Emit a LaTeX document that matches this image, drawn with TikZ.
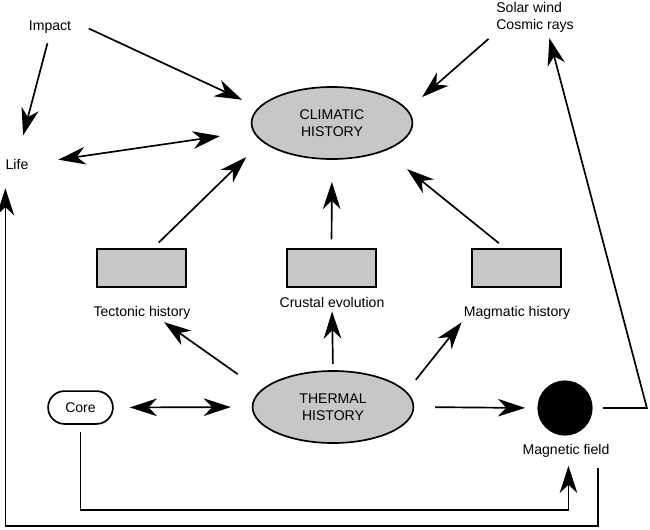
\documentclass[tikz,border=0pt]{standalone}
\usepackage{fontspec}
\setmainfont{Liberation Sans}
\usetikzlibrary{arrows.meta,shapes.geometric}
\definecolor{shade}{gray}{0.78}

\begin{document}
\begin{tikzpicture}[x=0.025cm, y=-0.025cm,
  hist/.style={ellipse, draw, line width=1.2pt, fill=shade, minimum width=4.02cm, minimum height=1.8cm, align=center, inner sep=0pt},
  slab/.style={rectangle, draw, line width=1.2pt, fill=shade, minimum width=2.22cm, minimum height=0.95cm},
  lbl/.style={inner sep=0pt, align=left},
  arr/.style={line width=1.2pt, -{Stealth[length=6.8mm,width=4.4mm,inset=2.1mm]}},
  dbl/.style={line width=1.2pt, {Stealth[length=6.8mm,width=4.4mm,inset=2.1mm]}-{Stealth[length=6.8mm,width=4.4mm,inset=2.1mm]}}]
  \useasboundingbox (0,0) rectangle (650,529);
  % the two histories
  \node[hist] (climatic) at (332,123) {CLIMATIC\\HISTORY};
  \node[hist] (thermal) at (333,407) {THERMAL\\HISTORY};
  % middle row
  \node[slab] (tect) at (141.5,268) {};
  \node[slab] (crust) at (331.5,268) {};
  \node[slab] (magma) at (516.5,268) {};
  \node[lbl] (tectlbl) at (142,313) {Tectonic history};
  \node[lbl] (crustlbl) at (332,302) {Crustal evolution};
  \node[lbl] (magmalbl) at (517,313) {Magmatic history};
  % outer items
  \node[lbl] (impact) at (50,27) {Impact};
  \node[lbl] (solar) at (535,17) {Solar wind\\Cosmic rays};
  \node[lbl] (life) at (17,164) {Life};
  \node[draw, line width=1.2pt, rounded corners=0.41cm, minimum width=1.62cm, minimum height=0.82cm] (core) at (80.5,407.5) {Core};
  \node[circle, fill=black, minimum size=1.38cm, inner sep=0pt] (magfield) at (565,408) {};
  \node[lbl] (maglbl) at (566,451) {Magnetic field};
  % arrows
  \draw[arr, shorten <=2.5mm, shorten >=6mm] (impact.south) -- (life.north);
  \draw[arr, shorten <=4.8mm, shorten >=4.5mm] (impact.north east) -- (climatic.168);
  \draw[arr, shorten <=2.5mm, shorten >=4.8mm] (solar.south west) -- (climatic.10);
  \draw[dbl, shorten <=7.5mm, shorten >=8.3mm] (life.east) -- (climatic.186);
  \draw[arr, shorten <=2mm, shorten >=5.5mm] (tect.60) -- (climatic.195);
  \draw[arr, shorten <=2.2mm, shorten >=5.5mm] (crust.north) -- (climatic.south);
  \draw[arr, shorten <=2mm, shorten >=7.2mm] (magma.120) -- (climatic.332);
  \draw[arr, shorten <=7mm, shorten >=1mm] (thermal.167) -- (tectlbl.-20);
  \draw[arr, shorten <=1.5mm, shorten >=1mm] (thermal.north) -- (crustlbl.south);
  \draw[arr, shorten <=3.7mm, shorten >=0.8mm] (thermal.12) -- (magmalbl.south west);
  \draw[dbl, shorten <=4mm, shorten >=5.2mm] (core.east) -- (thermal.west);
  \draw[arr, shorten <=5.2mm, shorten >=3mm] (thermal.east) -- (magfield.west);
  \draw[arr, shorten <=1.8mm, shorten >=2mm] (core.south) -- ++(0,85) -| (maglbl.-70);
  \draw[arr, shorten <=2.5mm, shorten >=1.5mm] (magfield.east) -- ++(54,0) -- (solar.-50);
  \draw[arr, shorten <=2.5mm, shorten >=4.7mm] (maglbl.-12) -- ++(0,68) -| (life.south west);
\end{tikzpicture}
\end{document}
